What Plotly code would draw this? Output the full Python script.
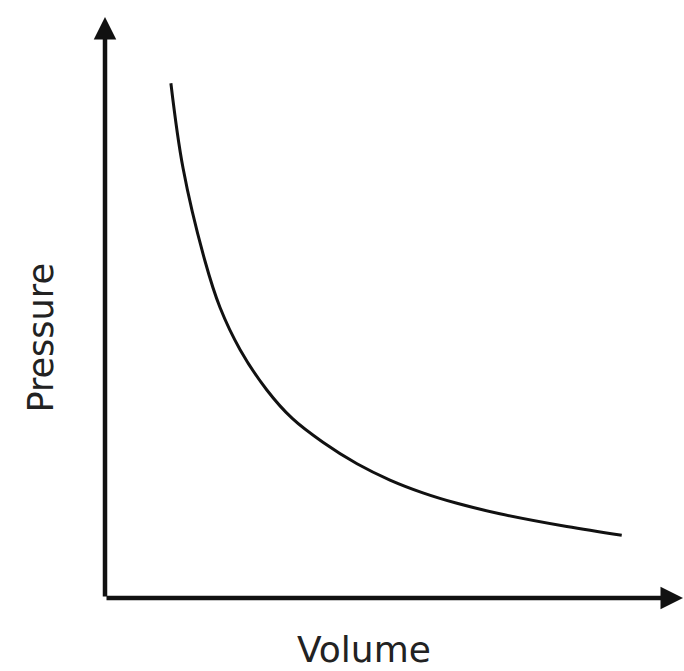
import plotly.graph_objects as go

# Data (arbitrary units)
volume = [1.14, 1.35, 1.73, 1.99, 2.34, 2.80, 3.24, 3.77, 4.36, 4.93, 5.50, 6.09, 6.83, 7.99, 8.94]
pressure = [8.86, 7.40, 5.80, 5.00, 4.27, 3.58, 3.09, 2.68, 2.31, 2.03, 1.81, 1.63, 1.45, 1.23, 1.08]

x_label = "Volume"
y_label = "Pressure"

fig = go.Figure()
fig.add_trace(go.Scatter(
    x=volume, y=pressure, mode="lines",
    line=dict(color="#111111", width=3, shape="spline", smoothing=1.0),
    showlegend=False, hoverinfo="skip",
))

# Axis arrows
for tip in [(10, 0), (0, 10)]:
    fig.add_annotation(x=tip[0], y=tip[1], ax=0, ay=0, xref="x", yref="y",
                       axref="x", ayref="y", showarrow=True, arrowhead=2,
                       arrowsize=1.0, arrowwidth=4.5, arrowcolor="#111111",
                       standoff=0, startstandoff=0, text="")

# Axis labels
fig.add_annotation(x=-0.1107, y=0.4466, xref="paper", yref="paper", text=y_label,
                   showarrow=False, textangle=-90,
                   font=dict(family="DejaVu Sans", size=35, color="#222222"),
                   xanchor="center", yanchor="middle")
fig.add_annotation(x=0.448, y=-0.0895, xref="paper", yref="paper", text=x_label,
                   showarrow=False,
                   font=dict(family="DejaVu Sans", size=36, color="#222222"),
                   xanchor="center", yanchor="middle")

fig.update_layout(
    width=684, height=671,
    margin=dict(l=105, r=1, t=17, b=73),
    paper_bgcolor="white", plot_bgcolor="white",
    xaxis=dict(range=[0, 10], visible=False, fixedrange=True),
    yaxis=dict(range=[0, 10], visible=False, fixedrange=True),
)

fig.write_html("out.html", config={"displayModeBar": False},
               post_script="document.body.style.margin='0';")
